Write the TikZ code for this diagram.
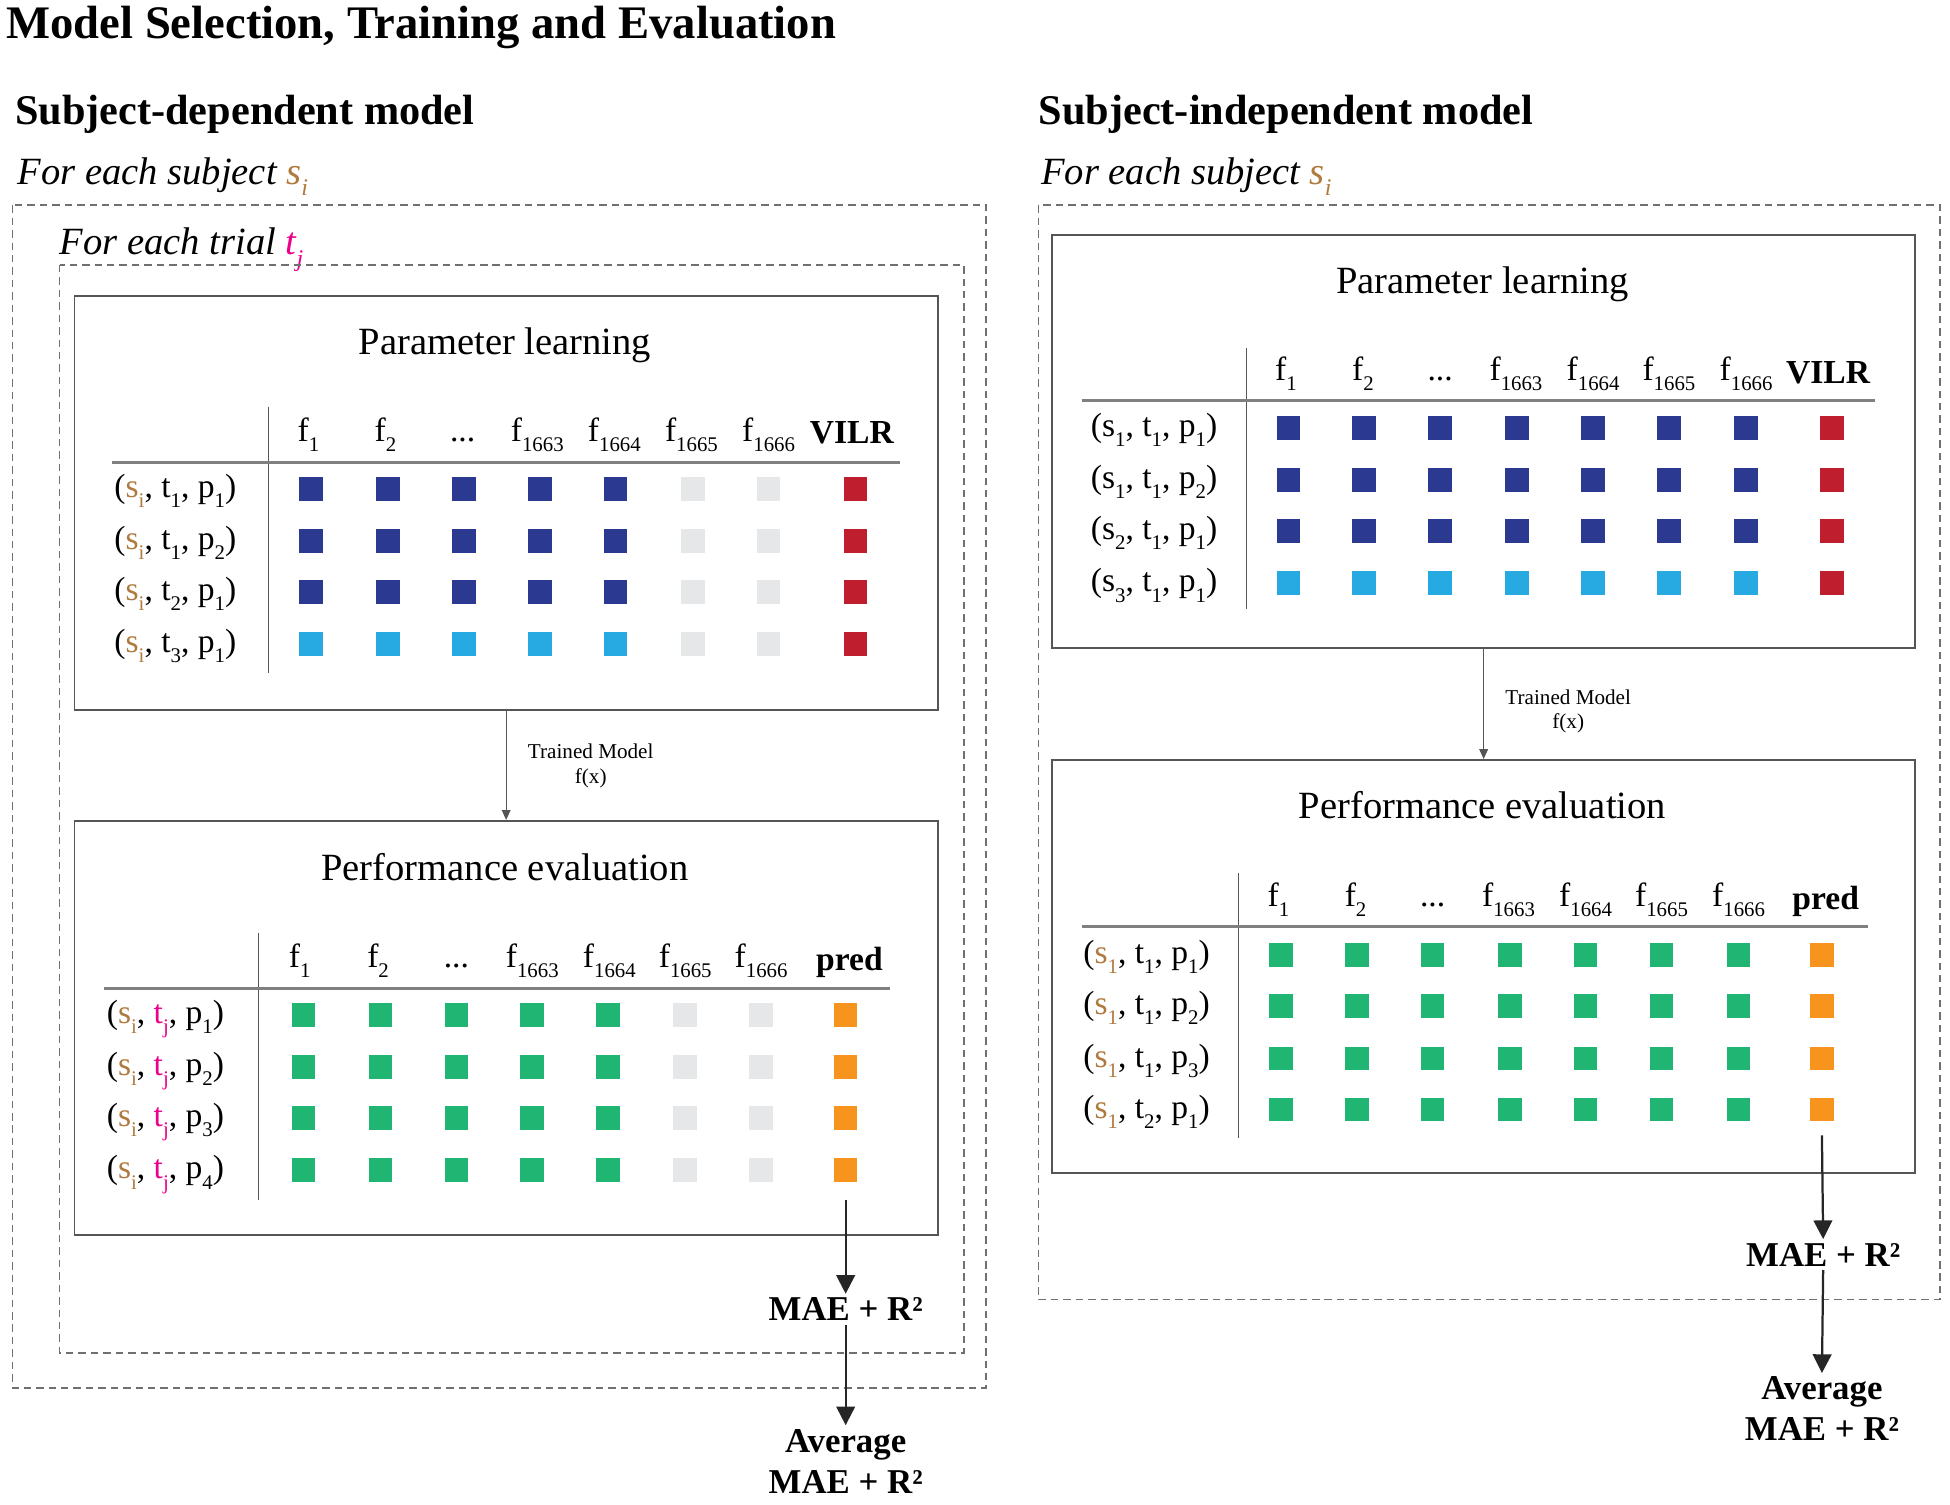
\documentclass[tikz,border=0pt]{standalone}
\usepackage{fontspec}
\setmainfont{Liberation Serif}
\usetikzlibrary{arrows.meta}
\definecolor{dkblue}{HTML}{2B3990}
\definecolor{ltblue}{HTML}{27AAE1}
\definecolor{ltgray}{HTML}{E6E7E8}
\definecolor{vred}{HTML}{BE1E2D}
\definecolor{vgreen}{HTML}{21B573}
\definecolor{vorange}{HTML}{F7941D}
\definecolor{sbrown}{HTML}{B07A3E}
\definecolor{tmag}{HTML}{EC008C}
\definecolor{boxgray}{HTML}{555555}
\definecolor{dashgray}{HTML}{707070}
\newcommand{\myfs}[1]{\fontsize{#1}{#1}\selectfont}
\newcommand{\mysub}[1]{\raisebox{-0.3em}{\scalebox{0.62}{#1}}}
\newcommand{\sbr}[1]{\textcolor{sbrown}{s\mysub{#1}}}
\newcommand{\tmg}{\textcolor{tmag}{t\mysub{j}}}
\newcommand{\pl}[2]{#1\mysub{#2}}
\newcommand{\fh}[1]{f\mysub{#1}}
\newcommand{\mydots}{...}
\begin{document}
\begin{tikzpicture}[x=1pt,y=-1pt,
  sq/.style={minimum width=19pt,minimum height=19pt,inner sep=0pt,draw=none,fill=#1},
  panel/.style={draw=boxgray,line width=1.3pt,minimum width=694pt,minimum height=333pt,inner sep=0pt},
  dbox/.style={draw=dashgray,line width=1.2pt,dash pattern=on 6pt off 4pt},
  vline/.style={draw=boxgray,line width=1pt},
  hline/.style={draw=gray,line width=2pt},
  hdr/.style={anchor=base,font=\myfs{27},inner sep=0pt},
  rowl/.style={anchor=base,font=\myfs{27},inner sep=0pt},
  ptitle/.style={anchor=base,font=\myfs{31},inner sep=0pt},
  small/.style={font=\fontsize{17}{20}\selectfont,align=center,inner sep=0pt},
  res/.style={font=\fontsize{28}{33}\selectfont\bfseries,align=center,inner sep=3pt},
  thin arrow/.style={draw=boxgray,line width=1pt,-{Triangle[width=7pt,length=8pt]}},
  big arrow/.style={draw=black!85,line width=1.8pt,-{Triangle[width=15pt,length=15pt]}}]
\useasboundingbox (0,0) rectangle (1568,1210);

% titles
\node[anchor=base west,inner sep=0pt,font=\myfs{37.5}\bfseries] (title) at (5,31) {Model Selection, Training and Evaluation};
\node[anchor=base west,inner sep=0pt,font=\myfs{34}\bfseries] (subL) at (12,100) {Subject-dependent model};
\node[anchor=base west,inner sep=0pt,font=\myfs{34}\bfseries] (subR) at (835,100) {Subject-independent model};
\node[anchor=base west,inner sep=0pt,font=\myfs{31}\itshape] (forsL) at (14,148) {For each subject \textcolor{sbrown}{s\mysub{i}}};
\node[anchor=base west,inner sep=0pt,font=\myfs{31}\itshape] (forsR) at (837,148) {For each subject \textcolor{sbrown}{s\mysub{i}}};
\node[anchor=base west,inner sep=0pt,font=\myfs{31}\itshape] (fortL) at (48,205) {For each trial \textcolor{tmag}{t\mysub{j}}};

% dashed loops
\draw[dbox] (10,165) rectangle (793,1116);
\draw[dbox] (48,213) rectangle (775,1088);
\draw[dbox] (835,165) rectangle (1560,1045);

% panels
\node[panel] (Lpl) at (407,404.5) {};
\node[panel] (Lpe) at (407,826.5) {};
\node[panel,minimum height=332pt] (Rpl) at (1193,355) {};
\node[panel,minimum height=332pt] (Rpe) at (1193,777) {};

\node[ptitle] (Lplt) at (406,285) {Parameter learning};
\node[ptitle] (Lpet) at (406,708) {Performance evaluation};
\node[ptitle] (Rplt) at (1192,236) {Parameter learning};
\node[ptitle] (Rpet) at (1192,658) {Performance evaluation};

% ---------- Left parameter learning table
\draw[vline] (216,327) -- (216,541);
\draw[hline] (90,372) -- (724,372);
\foreach \c/\x/\t in {1/248/\fh{1},2/310/\fh{2},3/372/\mydots,4/432/\fh{1663},5/494/\fh{1664},6/556/\fh{1665},7/618/\fh{1666}}
  \node[hdr] (Lplh-\c) at (\x,355) {\t};
\node[hdr,font=\myfs{27}\bfseries] (Lplh-8) at (685,357) {VILR};
\foreach \r/\y/\t in {1/393/{(\sbr{i}, \pl{t}{1}, \pl{p}{1})},2/435/{(\sbr{i}, \pl{t}{1}, \pl{p}{2})},3/476/{(\sbr{i}, \pl{t}{2}, \pl{p}{1})},4/518/{(\sbr{i}, \pl{t}{3}, \pl{p}{1})}}
  \node[rowl] (Lplr-\r) at (141,\y+7) {\t};
\foreach \c/\x in {1/250,2/312,3/373,4/434,5/495}{
  \foreach \r/\y in {1/393,2/435,3/476}
    \node[sq=dkblue] (Lpl-\r-\c) at (\x,\y) {};
  \node[sq=ltblue] (Lpl-4-\c) at (\x,518) {};
}
\foreach \c/\x in {6/557,7/618}
  \foreach \r/\y in {1/393,2/435,3/476,4/518}
    \node[sq=ltgray] (Lpl-\r-\c) at (\x,\y) {};
\foreach \r/\y in {1/393,2/435,3/476,4/518}
  \node[sq=vred] (Lpl-\r-8) at (688,\y) {};

% ---------- Left performance evaluation table
\draw[vline] (208,750) -- (208,965);
\draw[hline] (84,795) -- (716,795);
\foreach \c/\x/\t in {1/241/\fh{1},2/304/\fh{2},3/367/\mydots,4/428/\fh{1663},5/490/\fh{1664},6/551/\fh{1665},7/612/\fh{1666}}
  \node[hdr] (Lpeh-\c) at (\x,778) {\t};
\node[hdr,font=\myfs{27}\bfseries] (Lpeh-8) at (683,780) {pred};
\foreach \r/\y/\p in {1/816/1,2/858/2,3/899/3,4/941/4}
  \node[rowl] (Lper-\r) at (133,\y+7) {(\sbr{i}, \tmg, \pl{p}{\p})};
\foreach \c/\x in {1/244,2/306,3/367,4/428,5/489}
  \foreach \r/\y in {1/816,2/858,3/899,4/941}
    \node[sq=vgreen] (Lpe-\r-\c) at (\x,\y) {};
\foreach \c/\x in {6/551,7/612}
  \foreach \r/\y in {1/816,2/858,3/899,4/941}
    \node[sq=ltgray] (Lpe-\r-\c) at (\x,\y) {};
\foreach \r/\y in {1/816,2/858,3/899,4/941}
  \node[sq=vorange] (Lpe-\r-8) at (680,\y) {};

% ---------- Right parameter learning table
\draw[vline] (1002,280) -- (1002,490);
\draw[hline] (870,322) -- (1508,322);
\foreach \c/\x/\t in {1/1034/\fh{1},2/1096/\fh{2},3/1158/\mydots,4/1219/\fh{1663},5/1281/\fh{1664},6/1342/\fh{1665},7/1404/\fh{1666}}
  \node[hdr] (Rplh-\c) at (\x,306) {\t};
\node[hdr,font=\myfs{27}\bfseries] (Rplh-8) at (1470,308) {VILR};
\foreach \r/\y/\t in {1/344/{(\pl{s}{1}, \pl{t}{1}, \pl{p}{1})},2/386/{(\pl{s}{1}, \pl{t}{1}, \pl{p}{2})},3/427/{(\pl{s}{2}, \pl{t}{1}, \pl{p}{1})},4/469/{(\pl{s}{3}, \pl{t}{1}, \pl{p}{1})}}
  \node[rowl] (Rplr-\r) at (928,\y+7) {\t};
\foreach \c/\x in {1/1036,2/1097,3/1158,4/1220,5/1281,6/1342,7/1404}{
  \foreach \r/\y in {1/344,2/386,3/427}
    \node[sq=dkblue] (Rpl-\r-\c) at (\x,\y) {};
  \node[sq=ltblue] (Rpl-4-\c) at (\x,469) {};
}
\foreach \r/\y in {1/344,2/386,3/427,4/469}
  \node[sq=vred] (Rpl-\r-8) at (1473,\y) {};

% ---------- Right performance evaluation table
\draw[vline] (996,702) -- (996,915);
\draw[hline] (870,745) -- (1502,745);
\foreach \c/\x/\t in {1/1028/\fh{1},2/1090/\fh{2},3/1152/\mydots,4/1213/\fh{1663},5/1275/\fh{1664},6/1336/\fh{1665},7/1398/\fh{1666}}
  \node[hdr] (Rpeh-\c) at (\x,729) {\t};
\node[hdr,font=\myfs{27}\bfseries] (Rpeh-8) at (1468,731) {pred};
\foreach \r/\y/\t in {1/768/{(\sbr{1}, \pl{t}{1}, \pl{p}{1})},2/809/{(\sbr{1}, \pl{t}{1}, \pl{p}{2})},3/851/{(\sbr{1}, \pl{t}{1}, \pl{p}{3})},4/892/{(\sbr{1}, \pl{t}{2}, \pl{p}{1})}}
  \node[rowl] (Rper-\r) at (922,\y+7) {\t};
\foreach \c/\x in {1/1030,2/1091,3/1152,4/1214,5/1275,6/1336,7/1398}
  \foreach \r/\y in {1/768,2/809,3/851,4/892}
    \node[sq=vgreen] (Rpe-\r-\c) at (\x,\y) {};
\foreach \r/\y in {1/768,2/809,3/851,4/892}
  \node[sq=vorange] (Rpe-\r-8) at (1465,\y) {};

% ---------- connectors
\draw[thin arrow] (Lpl.south) -- (Lpe.north);
\node[small] (Ltm) at (475,616) {Trained Model\\f(x)};
\draw[thin arrow] (Rpl.south) -- (Rpe.north);
\node[small] (Rtm) at (1261,572) {Trained Model\\f(x)};

\coordinate (Lpredend) at (680,965);
\node[res,anchor=base] (Lmae) at (680,1062) {MAE + R²};
\node[res,anchor=north] (Lavg) at (680,1146) {Average\\MAE + R²};
\draw[big arrow] (Lpredend) -- (Lmae.north);
\draw[big arrow] (Lmae.south) -- (Lavg.north);

\coordinate (Rpredend) at (1465,913);
\node[res,anchor=base] (Rmae) at (1466,1018) {MAE + R²};
\node[res,anchor=north] (Ravg) at (1465,1104) {Average\\MAE + R²};
\draw[big arrow] (Rpredend) -- (Rmae.north);
\draw[big arrow] (Rmae.south) -- (Ravg.north);
\end{tikzpicture}
\end{document}
